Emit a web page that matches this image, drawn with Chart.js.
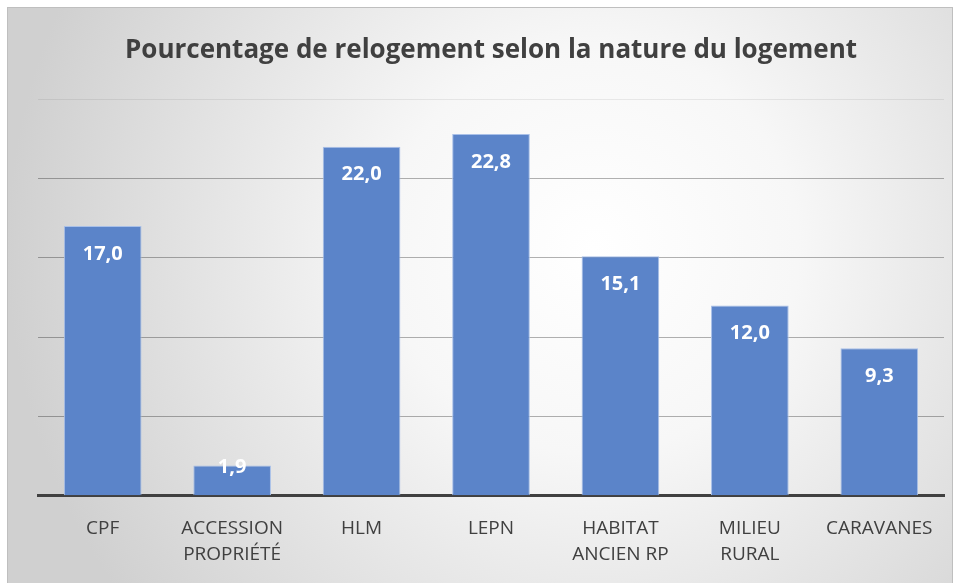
<!DOCTYPE html>
<html>
<head>
<meta charset="utf-8">
<script src="https://cdn.jsdelivr.net/npm/chart.js@4"></script>
<style>
  html, body { margin: 0; padding: 0; background: #fff; }
  #wrap { position: absolute; left: 7px; top: 7px; width: 946px; height: 576px; }
</style>
</head>
<body>
<div id="wrap"><canvas id="chartRelogement"></canvas></div>
<script>
const categories = [
    ["CPF"],
    ["ACCESSION", "PROPRIÉTÉ"],
    ["HLM"],
    ["LEPN"],
    ["HABITAT", "ANCIEN RP"],
    ["MILIEU", "RURAL"],
    ["CARAVANES"],
];
const pourcentages = [17.0, 1.9, 22.0, 22.8, 15.1, 12.0, 9.3];
const titre = "Pourcentage de relogement selon la nature du logement";

// fond gris avec un centre clair, comme dans Excel
const fondPlugin = {
    id: "fond",
    beforeDraw(chart) {
        const ctx = chart.ctx;
        const w = chart.width, h = chart.height;
        const g = ctx.createRadialGradient(w * 0.62, h * 0.42, 0, w * 0.62, h * 0.42, w * 0.62);
        g.addColorStop(0, "#ffffff");
        g.addColorStop(0.35, "#f7f7f7");
        g.addColorStop(1, "#d0d0d0");
        ctx.save();
        ctx.fillStyle = g;
        ctx.fillRect(0, 0, w, h);
        ctx.strokeStyle = "#bfbfbf";
        ctx.lineWidth = 1;
        ctx.strokeRect(0.5, 0.5, w - 1, h);
        ctx.restore();
    },
};

// étiquettes de valeur dans le haut des barres
const etiquettesPlugin = {
    id: "etiquettes",
    afterDatasetsDraw(chart) {
        const ctx = chart.ctx;
        const meta = chart.getDatasetMeta(0);
        ctx.save();
        ctx.fillStyle = "#ffffff";
        ctx.font = "bold 20px 'Open Sans', sans-serif";
        ctx.textAlign = "center";
        ctx.textBaseline = "middle";
        meta.data.forEach((bar, i) => {
            const y = Math.min(bar.y + 28, bar.base - 28);
            ctx.fillText(pourcentages[i].toFixed(1).replace(".", ","), bar.x, y);
        });
        ctx.restore();
    },
};

let chartContainer = document.getElementById("chartRelogement");
let chart = new Chart(chartContainer, {
    type: "bar",
    data: {
        labels: categories,
        datasets: [
            {
                label: "Pourcentage",
                data: pourcentages,
                backgroundColor: "#5b84c9",
                borderColor: "#a9c0e8",
                borderWidth: 1,
                categoryPercentage: 0.6,
                barPercentage: 1,
            },
        ],
    },
    options: {
        responsive: true,
        maintainAspectRatio: false,
        animation: false,
        layout: { padding: { left: 31, right: 9, top: 0, bottom: 4 } },
        plugins: {
            legend: { display: false },
            tooltip: { enabled: false },
            title: {
                display: true,
                text: titre,
                color: "#404040",
                font: { family: "'Open Sans', sans-serif", size: 26, weight: "bold", lineHeight: 1.2 },
                padding: { top: 28, bottom: 33 },
            },
        },
        scales: {
            x: {
                grid: { display: false },
                border: { display: true, color: "#404040", width: 3 },
                ticks: {
                    color: "#404040",
                    font: { family: "'Open Sans', sans-serif", size: 19, lineHeight: 1.35 },
                    padding: 12,
                    maxRotation: 0,
                    autoSkip: false,
                },
            },
            y: {
                min: 0,
                max: 25,
                ticks: { display: false, stepSize: 5 },
                grid: {
                    color: (c) => (c.tick && c.tick.value === 25 ? "rgba(0,0,0,0.07)" : "rgba(0,0,0,0.3)"),
                    drawTicks: false,
                },
                border: { display: false },
            },
        },
    },
    plugins: [fondPlugin, etiquettesPlugin],
});
</script>
</body>
</html>
